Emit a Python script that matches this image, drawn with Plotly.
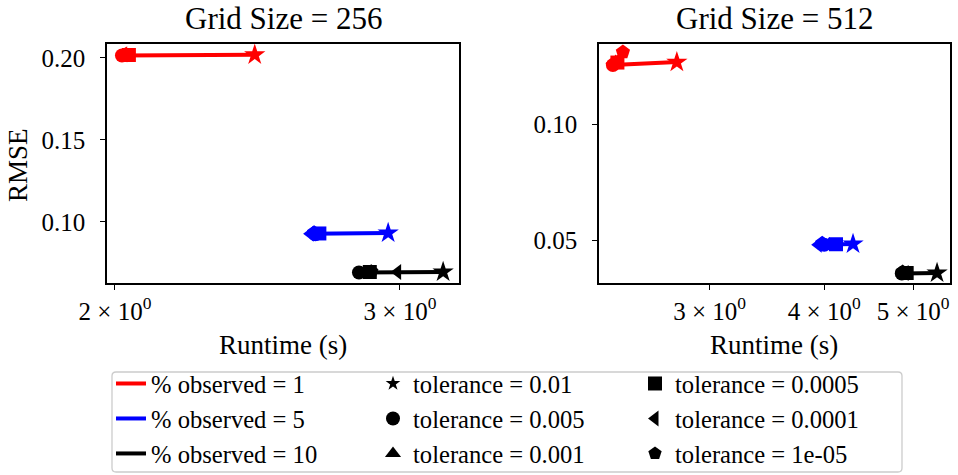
import plotly.graph_objects as go

# ---------------- data ----------------
tolerances = ["0.01", "0.005", "0.001", "0.0005", "0.0001", "1e-05"]
tol_symbols = ["star", "circle", "triangle-up", "square", "triangle-left", "pentagon"]
observed = ["1", "5", "10"]
obs_colors = ["#ff0000", "#0000ff", "#000000"]

# Grid size 256 (runtime in s, RMSE) ordered as tolerances
rt_256_obs1 = [2.44, 2.020, 2.030, 2.040, 2.025, 2.030]
rmse_256_obs1 = [0.2019, 0.2015, 0.2020, 0.2018, 0.2022, 0.2020]
rt_256_obs5 = [2.95, 2.660, 2.665, 2.675, 2.640, 2.655]
rmse_256_obs5 = [0.0933, 0.0925, 0.0928, 0.0930, 0.0928, 0.0935]
rt_256_obs10 = [3.19, 2.830, 2.857, 2.874, 2.990, 2.880]
rmse_256_obs10 = [0.0695, 0.0692, 0.0695, 0.0695, 0.0695, 0.0697]

# Grid size 512
rt_512_obs1 = [2.763, 2.353, 2.370, 2.380, 2.350, 2.413]
rmse_512_obs1 = [0.1267, 0.1254, 0.1270, 0.1265, 0.1262, 0.1310]
rt_512_obs5 = [4.30, 4.00, 4.05, 4.12, 3.94, 3.98]
rmse_512_obs5 = [0.0483, 0.0480, 0.0483, 0.0482, 0.0480, 0.0486]
rt_512_obs10 = [5.31, 4.86, 4.88, 4.92, 4.90, 4.87]
rmse_512_obs10 = [0.0358, 0.0356, 0.0358, 0.0358, 0.0358, 0.0362]

grid_titles = ["Grid Size = 256", "Grid Size = 512"]
x_ticks_256 = [2, 3]
x_ticklabels_256 = ["2 × 10<sup>0</sup>", "3 × 10<sup>0</sup>"]
x_ticks_512 = [3, 4, 5]
x_ticklabels_512 = ["3 × 10<sup>0</sup>", "4 × 10<sup>0</sup>", "5 × 10<sup>0</sup>"]
y_ticks_256 = [0.10, 0.15, 0.20]
y_ticklabels_256 = ["0.10", "0.15", "0.20"]
y_ticks_512 = [0.05, 0.10]
y_ticklabels_512 = ["0.05", "0.10"]

# ---------------- figure ----------------
W, H = 958, 475
FONT = "Liberation Serif"


def fx(p):
    return p / W


def fy(p):
    return 1 - p / H


fig = go.Figure()

series_256 = [(rt_256_obs1, rmse_256_obs1), (rt_256_obs5, rmse_256_obs5), (rt_256_obs10, rmse_256_obs10)]
series_512 = [(rt_512_obs1, rmse_512_obs1), (rt_512_obs5, rmse_512_obs5), (rt_512_obs10, rmse_512_obs10)]

for axis_id, series in (("", series_256), ("2", series_512)):
    for (xs, ys), col in zip(series, obs_colors):
        fig.add_trace(go.Scatter(
            x=xs, y=ys, mode="lines+markers",
            xaxis="x" + axis_id, yaxis="y" + axis_id,
            line=dict(color=col, width=4),
            marker=dict(symbol=tol_symbols, size=[16, 14, 14, 14, 14, 15], color=col,
                        opacity=1, line=dict(width=0)),
            showlegend=False, hoverinfo="skip"))

# legend entries (row-major so that columns match the reference)
legend_items = []
for i in range(3):
    legend_items.append(("line", i))
    legend_items.append(("tol", i))
    legend_items.append(("tol", i + 3))

for kind, i in legend_items:
    if kind == "line":
        fig.add_trace(go.Scatter(
            x=[None], y=[None], mode="lines",
            line=dict(color=obs_colors[i], width=4),
            name="% observed = " + observed[i]))
    else:
        fig.add_trace(go.Scatter(
            x=[None], y=[None], mode="markers",
            marker=dict(symbol=tol_symbols[i], color="black", opacity=1,
                        size=11 if tol_symbols[i] == "star" else 14, line=dict(width=0)),
            name="tolerance = " + tolerances[i]))

axis_common = dict(
    showline=True, linecolor="black", linewidth=1.5, mirror=True,
    ticks="outside", ticklen=5, tickwidth=1.2, tickcolor="black",
    showgrid=False, zeroline=False, automargin=False,
    tickfont=dict(family=FONT, size=25, color="black"),
)

# rounded legend frame (matplotlib style)
lx0, ly0, lx1, ly1, rr = 112, 372, 902, 472, 4
frame_path = (f"M {fx(lx0 + rr)} {fy(ly0)} L {fx(lx1 - rr)} {fy(ly0)} "
              f"Q {fx(lx1)} {fy(ly0)} {fx(lx1)} {fy(ly0 + rr)} L {fx(lx1)} {fy(ly1 - rr)} "
              f"Q {fx(lx1)} {fy(ly1)} {fx(lx1 - rr)} {fy(ly1)} L {fx(lx0 + rr)} {fy(ly1)} "
              f"Q {fx(lx0)} {fy(ly1)} {fx(lx0)} {fy(ly1 - rr)} L {fx(lx0)} {fy(ly0 + rr)} "
              f"Q {fx(lx0)} {fy(ly0)} {fx(lx0 + rr)} {fy(ly0)} Z")

fig.update_layout(
    width=W, height=H,
    margin=dict(l=0, r=0, t=0, b=0, autoexpand=False),
    paper_bgcolor="white", plot_bgcolor="white",
    font=dict(family=FONT, color="black"),
    xaxis=dict(domain=[fx(107), fx(459)], type="log", range=[0.2961, 0.5136],
               tickmode="array", tickvals=x_ticks_256, ticktext=x_ticklabels_256,
               anchor="y", **axis_common),
    yaxis=dict(domain=[fy(283), fy(44)], range=[0.0628, 0.2085],
               tickmode="array", tickvals=y_ticks_256, ticktext=y_ticklabels_256,
               anchor="x", ticklabelstandoff=10, **axis_common),
    xaxis2=dict(domain=[fx(599), fx(950)], type="log", range=[0.3565, 0.7392],
                tickmode="array", tickvals=x_ticks_512, ticktext=x_ticklabels_512,
                anchor="y2", **axis_common),
    yaxis2=dict(domain=[fy(283), fy(44)], range=[0.0315, 0.1345],
                tickmode="array", tickvals=y_ticks_512, ticktext=y_ticklabels_512,
                anchor="x2", ticklabelstandoff=10, **axis_common),
    legend=dict(
        orientation="h", x=fx(111), y=fy(361), xanchor="left", yanchor="top",
        entrywidth=217, entrywidthmode="pixels",
        bgcolor="rgba(0,0,0,0)", borderwidth=0,
        font=dict(family=FONT, size=24.6, color="black"),
        traceorder="normal", itemsizing="trace",
    ),
    showlegend=True,
    shapes=[dict(type="path", path=frame_path, xref="paper", yref="paper",
                 line=dict(color="#cccccc", width=1.3), fillcolor="white", layer="below")],
)

annotations = [
    dict(text=grid_titles[0], x=fx(283), y=fy(18), font=dict(size=31)),
    dict(text=grid_titles[1], x=fx(774), y=fy(18), font=dict(size=31)),
    dict(text="Runtime (s)", x=fx(283), y=fy(345), font=dict(size=27)),
    dict(text="Runtime (s)", x=fx(774), y=fy(345), font=dict(size=27)),
    dict(text="RMSE", x=fx(18), y=fy(165), textangle=-90, font=dict(size=27)),
]
for a in annotations:
    a.update(xref="paper", yref="paper", showarrow=False, xanchor="center", yanchor="middle")
    a["font"].update(family=FONT, color="black")
fig.update_layout(annotations=annotations)

fig.write_html("out.html", config={"displayModeBar": False},
               post_script="document.body.style.margin='0';document.body.style.overflow='hidden';")
